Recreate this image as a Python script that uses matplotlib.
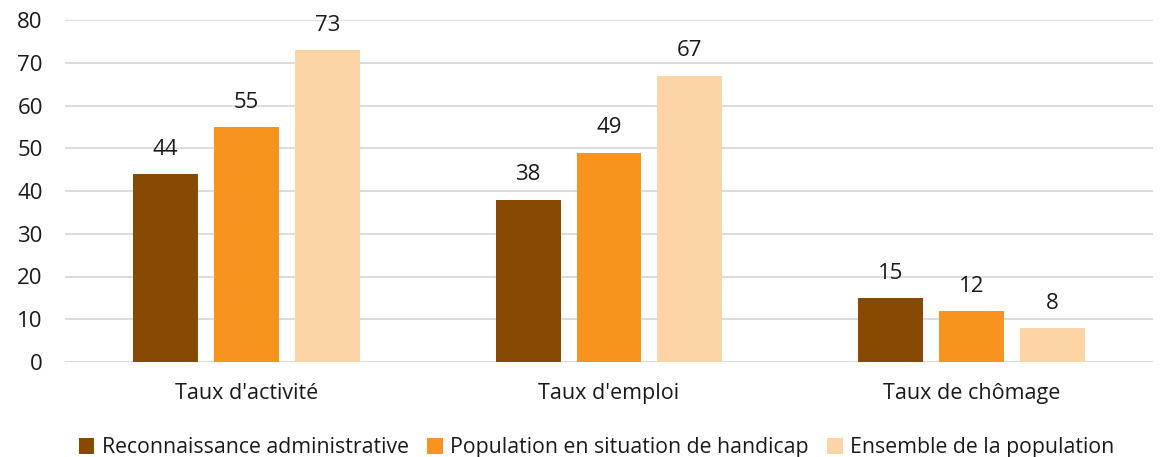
import matplotlib
matplotlib.use("Agg")
import matplotlib.pyplot as plt
import numpy as np

categories = ["Taux d'activité", "Taux d'emploi", "Taux de chômage"]
series_names = ["Reconnaissance administrative", "Population en situation de handicap", "Ensemble de la population"]
reconnaissance = [44, 38, 15]
handicap = [55, 49, 12]
ensemble = [73, 67, 8]
yticks = [0, 10, 20, 30, 40, 50, 60, 70, 80]

colors = ["#884A03", "#F7941F", "#FCD4A6"]

plt.rcParams['font.family'] = ['Open Sans', 'DejaVu Sans']

fig = plt.figure(figsize=(11.64, 4.57), dpi=100)
ax = fig.add_axes([65/1164, 1-362/457, 1088/1164, 342/457])

x = np.arange(len(categories))
width = 0.179
step = 0.223
for i, (vals, name) in enumerate(zip([reconnaissance, handicap, ensemble], series_names)):
    pos = x + (i - 1) * step
    ax.bar(pos, vals, width=width, color=colors[i], label=name, zorder=3)
    for p, v in zip(pos, vals):
        ax.text(p, v + 3.3, str(v), ha='center', va='bottom', fontsize=16, color='#1a1a1a')

ax.set_xlim(-0.5, 2.5)
ax.set_ylim(0, 80)
ax.set_yticks(yticks)
ax.set_xticks(x)
ax.set_xticklabels(categories, fontsize=15.5, color='#1a1a1a')
ax.tick_params(axis='y', labelsize=16, length=0, pad=16, labelcolor='#1a1a1a')
ax.tick_params(axis='x', length=0, pad=15)
ax.grid(axis='y', color='#d9d9d9', linewidth=1.3, zorder=0)
for s in ax.spines.values():
    s.set_visible(False)

leg = fig.legend(loc='lower center', bbox_to_anchor=(0.5125, -0.045), ncol=3, frameon=False,
                 fontsize=15.3, handlelength=0.75, handleheight=0.75, handletextpad=0.35, columnspacing=0.85)
for t in leg.get_texts():
    t.set_color('#1a1a1a')
fig.savefig("out.png", dpi=100)
